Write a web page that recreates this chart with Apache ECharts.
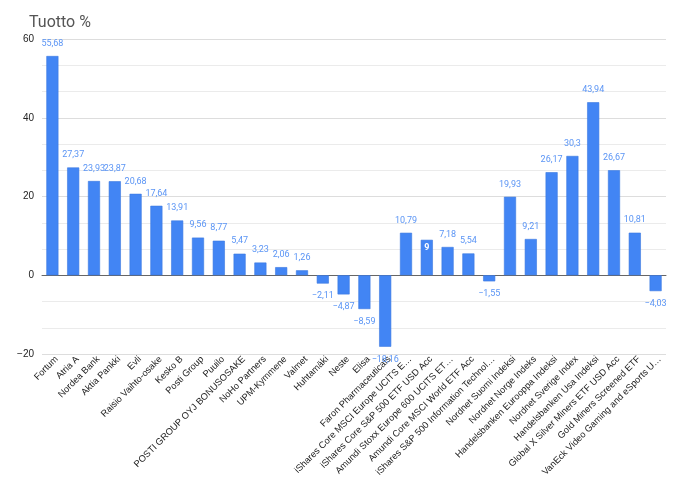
<!DOCTYPE html>
<html>
<head>
<meta charset="utf-8">
<script src="https://cdn.jsdelivr.net/npm/echarts@6/dist/echarts.min.js"></script>
<style>
  html, body { margin: 0; padding: 0; background: #fff; }
  #chart { width: 690px; height: 483px; }
</style>
</head>
<body>
<div id="chart"></div>
<script>
// osakkeet ja rahastot
const names = [
  'Fortum', 'Atria A', 'Nordea Bank', 'Aktia Pankki', 'Evli', 'Raisio Vaihto-osake',
  'Kesko B', 'Posti Group', 'Puuilo', 'POSTI GROUP OYJ BONUSOSAKE', 'NoHo Partners',
  'UPM-Kymmene', 'Valmet', 'Huhtamäki', 'Neste', 'Elisa', 'Faron Pharmaceuticals',
  'iShares Core MSCI Europe UCITS E…', 'iShares Core S&P 500 ETF USD Acc',
  'Amundi Stoxx Europe 600 UCITS ET…', 'Amundi Core MSCI World ETF Acc',
  'iShares S&P 500 Information Technol…', 'Nordnet Suomi Indeksi', 'Nordnet Norge Indeks',
  'Handelsbanken Eurooppa Indeksi', 'Nordnet Sverige Index', 'Handelsbanken Usa Indeksi',
  'Global X Silver Miners ETF USD Acc', 'Gold Miners Screened ETF',
  'VanEck Video Gaming and eSports U…'
]
// tuotto %
const returns = [
  55.68, 27.37, 23.93, 23.87, 20.68, 17.64, 13.91, 9.56, 8.77, 5.47, 3.23, 2.06, 1.26,
  -2.11, -4.87, -8.59, -18.16, 10.79, 9, 7.18, 5.54, -1.55, 19.93, 9.21, 26.17, 30.3,
  43.94, 26.67, 10.81, -4.03
]
const yTicks = [-20, 0, 20, 40, 60]

const fmt = (v) => String(v).replace('.', ',').replace('-', '\u2212')

const myChart = echarts.init(document.getElementById('chart'))

const seriesData = returns.map((v, i) => {
  const item = { value: v, label: { position: v < 0 ? 'bottom' : 'top' } }
  // Google-kaavio laittoi tämän arvon palkin sisään
  if (names[i] === 'iShares Core S&P 500 ETF USD Acc') {
    item.label = { position: 'insideTop', color: '#fff', fontWeight: 'bold', distance: 3 }
  }
  return item
})

myChart.setOption({
  animation: false,
  title: {
    text: 'Tuotto %',
    left: 24,
    top: 10,
    textStyle: { fontSize: 16, fontWeight: 'normal', color: '#555', fontFamily: 'Roboto' }
  },
  grid: { left: 42, right: 24, top: 39, bottom: 129 },
  xAxis: {
    type: 'category',
    data: names,
    axisTick: { show: false },
    axisLine: { onZero: true, lineStyle: { color: '#666' } },
    axisLabel: {
      rotate: 45,
      interval: 0,
      fontSize: 9.3,
      color: '#222',
      fontFamily: 'Liberation Sans',
      margin: 8,
      padding: [0, -6, 0, 0]
    }
  },
  yAxis: {
    type: 'value',
    min: yTicks[0],
    max: yTicks[yTicks.length - 1],
    interval: 20,
    axisLabel: {
      fontSize: 10,
      color: '#222',
      fontFamily: 'Liberation Sans',
      formatter: (v) => fmt(v)
    },
    splitLine: { lineStyle: { color: '#ddd' } },
    minorTick: { show: false, splitNumber: 3 },
    minorSplitLine: { show: true, lineStyle: { color: '#ebebeb' } }
  },
  series: [{
    type: 'bar',
    data: seriesData,
    barWidth: '58%',
    itemStyle: { color: '#4285f4', borderColor: '#3b78e0', borderWidth: 0.6 },
    label: {
      show: true,
      fontSize: 9,
      color: '#5b95f5',
      fontFamily: 'Roboto',
      distance: 8,
      formatter: (p) => fmt(p.value)
    }
  }]
})
</script>
</body>
</html>
